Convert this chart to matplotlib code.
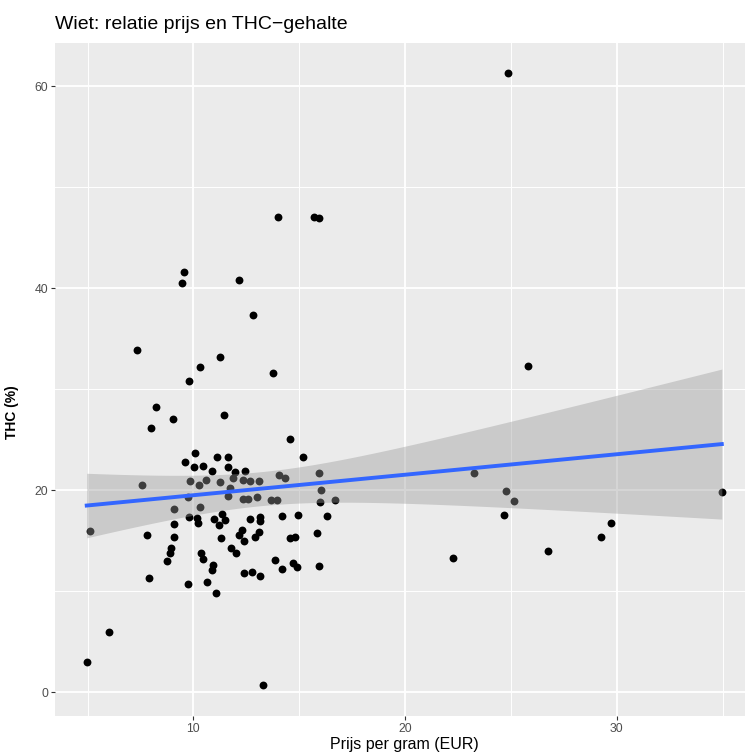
import numpy as np
import matplotlib
matplotlib.use("Agg")
import matplotlib.pyplot as plt

prijs = [
    24.87, 13.99, 15.70, 15.95, 9.56, 9.45, 12.13, 12.80, 7.35, 11.26,
    25.79, 10.32, 13.75, 9.78, 8.24, 9.03, 11.45, 7.99, 14.54, 15.18,
    10.08, 9.58, 10.05, 10.47, 10.90, 11.13, 11.62, 11.62, 11.97, 12.44,
    7.59, 9.84, 10.24, 10.59, 11.26, 11.89, 12.36, 12.65, 13.12, 14.06,
    14.33, 15.92, 11.73, 11.65, 9.76, 12.36, 12.60, 13.00, 13.67, 13.94,
    16.03, 15.99, 16.69, 9.09, 10.32, 5.12, 9.81, 10.16, 10.21, 9.09,
    10.98, 11.34, 11.50, 11.21, 12.68, 13.15, 13.15, 14.18, 14.93, 16.30,
    7.80, 9.09, 11.29, 12.31, 12.13, 12.41, 12.91, 13.12, 14.54, 14.80,
    15.83, 8.93, 8.87, 8.74, 10.35, 10.44, 11.77, 12.00, 13.83, 14.20,
    14.68, 14.88, 15.95, 10.94, 10.90, 12.40, 12.76, 13.15, 7.91, 9.72,
    10.66, 11.06, 4.96, 6.03, 13.31, 23.26, 24.77, 25.15, 24.68, 22.25,
    26.74, 29.27, 29.72, 34.96,
]
thc = [
    61.3, 47.1, 47.1, 47.0, 41.6, 40.5, 40.8, 37.4, 33.9, 33.2,
    32.3, 32.2, 31.6, 30.8, 28.2, 27.1, 27.5, 26.2, 25.1, 23.3,
    23.7, 22.8, 22.3, 22.4, 21.9, 23.3, 23.3, 22.3, 21.8, 21.9,
    20.5, 20.9, 20.5, 21.0, 20.8, 21.2, 21.0, 20.9, 20.9, 21.5,
    21.2, 21.7, 20.2, 19.4, 19.3, 19.1, 19.1, 19.3, 19.0, 19.0,
    20.0, 18.8, 19.0, 18.1, 18.3, 16.0, 17.4, 17.3, 16.8, 16.7,
    17.2, 17.7, 17.1, 16.6, 17.2, 17.4, 17.0, 17.5, 17.6, 17.5,
    15.6, 15.4, 15.3, 16.1, 15.6, 15.0, 15.4, 15.9, 15.3, 15.4,
    15.8, 14.3, 13.8, 13.0, 13.8, 13.2, 14.3, 13.8, 13.1, 12.2,
    12.8, 12.4, 12.5, 12.6, 12.1, 11.8, 11.9, 11.5, 11.3, 10.7,
    10.95, 9.8, 2.97, 6.0, 0.72, 21.7, 19.9, 18.9, 17.6, 13.3,
    14.0, 15.4, 16.8, 19.8,
]

x = np.array(prijs)
y = np.array(thc)

# linear model with 95% confidence band (like geom_smooth(method = "lm")) ......
n = len(x)
slope, icpt = np.polyfit(x, y, 1)
resid = y - (icpt + slope * x)
s = np.sqrt(np.sum(resid ** 2) / (n - 2))
xs = np.linspace(x.min(), x.max(), 80)
ys = icpt + slope * xs
se = s * np.sqrt(1 / n + (xs - x.mean()) ** 2 / np.sum((x - x.mean()) ** 2))
t = 1.98

fig = plt.figure(figsize=(7.45, 7.56), dpi=100)
ax = fig.add_axes([0.0738, 0.0534, 0.9377, 0.8903])
ax.set_facecolor("#EBEBEB")

ax.scatter(x, y, s=32, color="black", zorder=3, linewidths=0)
ax.fill_between(xs, ys - t * se, ys + t * se, color="#999999", alpha=0.4,
                linewidth=0, zorder=4)
ax.plot(xs, ys, color="#3366FF", lw=2.8, zorder=5)

ax.set_xlim(3.46, 36.46)
ax.set_ylim(-2.31, 64.33)
ax.set_xticks([10, 20, 30])
ax.set_yticks([0, 20, 40, 60])
ax.set_xticks([5, 15, 25, 35], minor=True)
ax.set_yticks([10, 30, 50], minor=True)
ax.grid(which="major", color="white", lw=1.3, zorder=0)
ax.grid(which="minor", color="white", lw=0.7, zorder=0)
ax.set_axisbelow(True)
for sp in ax.spines.values():
    sp.set_visible(False)
ax.tick_params(which="major", length=3, width=0.8, color="#333333",
               labelsize=8.8, labelcolor="#4D4D4D", pad=2)
ax.tick_params(which="minor", length=0)
for lab in ax.get_xticklabels() + ax.get_yticklabels():
    lab.set_family("Liberation Sans")

ax.set_xlabel("Prijs per gram (EUR)", fontsize=11.5, family="Liberation Sans",
              labelpad=2)
ax.set_ylabel("THC (%)", fontsize=10, family="Liberation Sans",
              fontweight="bold", labelpad=5)
ax.yaxis.set_label_coords(-0.052, 0.451)
fig.text(0.0738, 0.962, "Wiet: relatie prijs en THC\u2212gehalte", fontsize=14,
         family="Liberation Sans", va="baseline", ha="left")

fig.savefig("out.png", dpi=100)
